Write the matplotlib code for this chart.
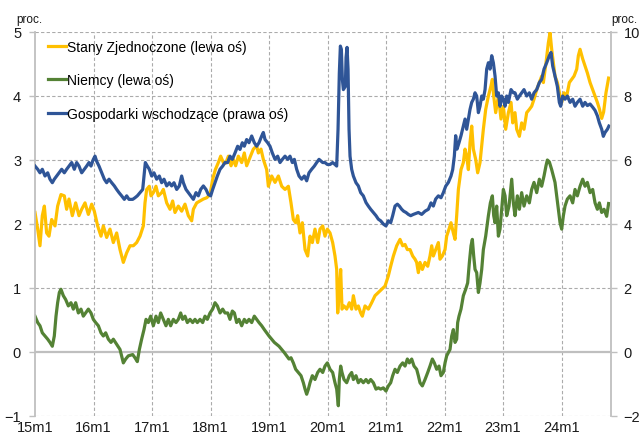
import matplotlib.pyplot as plt
import numpy as np

# rentownosci obligacji 10-letnich, proc.
# (czas w latach ulamkowych, wartosc)
us = [
    (2015.000, 2.18), (2015.046, 1.92), (2015.085, 1.66), (2015.125, 2.13), (2015.160, 2.28),
    (2015.199, 1.86), (2015.239, 1.81), (2015.285, 2.07), (2015.342, 1.97), (2015.387, 2.28),
    (2015.444, 2.46), (2015.501, 2.44), (2015.541, 2.23), (2015.581, 2.39), (2015.638, 2.13),
    (2015.695, 2.33), (2015.752, 2.13), (2015.798, 2.23), (2015.855, 2.33), (2015.912, 2.15),
    (2015.969, 2.31), (2016.014, 2.20), (2016.071, 1.97), (2016.128, 1.81), (2016.168, 1.97),
    (2016.225, 1.79), (2016.282, 1.92), (2016.339, 1.71), (2016.396, 1.86), (2016.453, 1.60),
    (2016.510, 1.40), (2016.567, 1.55), (2016.624, 1.66), (2016.681, 1.66), (2016.738, 1.71),
    (2016.795, 1.81), (2016.852, 1.97), (2016.880, 2.33), (2016.909, 2.54), (2016.954, 2.59),
    (2016.983, 2.44), (2017.023, 2.49), (2017.068, 2.59), (2017.108, 2.44), (2017.165, 2.49),
    (2017.194, 2.54), (2017.251, 2.33), (2017.308, 2.23), (2017.353, 2.36), (2017.393, 2.18),
    (2017.450, 2.28), (2017.507, 2.20), (2017.564, 2.31), (2017.621, 2.13), (2017.678, 2.05),
    (2017.707, 2.23), (2017.764, 2.33), (2017.821, 2.36), (2017.878, 2.39), (2017.935, 2.41),
    (2017.992, 2.46), (2018.037, 2.70), (2018.083, 2.85), (2018.134, 2.96), (2018.174, 3.06),
    (2018.220, 2.96), (2018.260, 2.95), (2018.305, 3.06), (2018.351, 2.91), (2018.390, 3.01),
    (2018.430, 2.91), (2018.476, 3.06), (2018.533, 2.96), (2018.578, 3.11), (2018.618, 2.91),
    (2018.675, 3.04), (2018.732, 3.17), (2018.789, 3.22), (2018.818, 3.11), (2018.863, 3.17),
    (2018.903, 3.01), (2018.960, 2.85), (2018.989, 2.59), (2019.046, 2.75), (2019.103, 2.65),
    (2019.160, 2.75), (2019.217, 2.59), (2019.274, 2.54), (2019.331, 2.59), (2019.376, 2.33),
    (2019.416, 2.07), (2019.456, 2.02), (2019.490, 2.13), (2019.530, 1.86), (2019.570, 2.02),
    (2019.616, 1.60), (2019.661, 1.50), (2019.701, 1.81), (2019.741, 1.71), (2019.786, 1.92),
    (2019.832, 1.71), (2019.872, 1.92), (2019.918, 1.97), (2019.957, 1.81), (2019.997, 1.92),
    (2020.043, 1.86), (2020.088, 1.71), (2020.128, 1.50), (2020.157, 1.29), (2020.174, 0.61),
    (2020.197, 0.88), (2020.225, 1.29), (2020.248, 0.67), (2020.282, 0.72), (2020.328, 0.67),
    (2020.373, 0.77), (2020.413, 0.67), (2020.442, 0.88), (2020.487, 0.67), (2020.527, 0.72),
    (2020.567, 0.61), (2020.596, 0.56), (2020.641, 0.72), (2020.698, 0.67), (2020.755, 0.77),
    (2020.812, 0.88), (2020.869, 0.93), (2020.926, 0.98), (2020.983, 1.03), (2021.040, 1.19),
    (2021.080, 1.34), (2021.126, 1.50), (2021.183, 1.66), (2021.240, 1.76), (2021.285, 1.66),
    (2021.325, 1.68), (2021.365, 1.60), (2021.411, 1.60), (2021.456, 1.50), (2021.496, 1.45),
    (2021.524, 1.40), (2021.553, 1.24), (2021.581, 1.40), (2021.621, 1.29), (2021.667, 1.40),
    (2021.713, 1.34), (2021.752, 1.50), (2021.781, 1.66), (2021.809, 1.50), (2021.849, 1.60),
    (2021.895, 1.71), (2021.923, 1.45), (2021.963, 1.50), (2022.009, 1.60), (2022.037, 1.81),
    (2022.077, 1.92), (2022.111, 2.02), (2022.151, 1.86), (2022.180, 1.76), (2022.208, 2.13),
    (2022.237, 2.54), (2022.282, 2.85), (2022.322, 2.96), (2022.351, 3.17), (2022.379, 3.06),
    (2022.408, 2.85), (2022.436, 3.27), (2022.465, 3.53), (2022.493, 3.17), (2022.533, 3.01),
    (2022.567, 2.80), (2022.607, 2.96), (2022.664, 3.48), (2022.704, 3.79), (2022.750, 4.00),
    (2022.795, 4.16), (2022.818, 4.26), (2022.841, 4.00), (2022.875, 3.74), (2022.921, 4.00),
    (2022.966, 3.64), (2023.006, 3.84), (2023.046, 3.48), (2023.092, 3.74), (2023.137, 3.90),
    (2023.166, 3.58), (2023.205, 3.74), (2023.234, 3.48), (2023.280, 3.37), (2023.319, 3.58),
    (2023.359, 3.48), (2023.405, 3.74), (2023.450, 3.79), (2023.490, 3.84), (2023.530, 3.95),
    (2023.576, 4.10), (2023.621, 4.21), (2023.661, 4.31), (2023.690, 4.21), (2023.735, 4.52),
    (2023.775, 4.83), (2023.804, 4.99), (2023.832, 4.73), (2023.861, 4.52), (2023.889, 4.31),
    (2023.929, 4.21), (2023.975, 4.00), (2024.003, 3.90), (2024.043, 4.05), (2024.089, 4.00),
    (2024.134, 4.21), (2024.174, 4.26), (2024.214, 4.31), (2024.260, 4.42), (2024.288, 4.63),
    (2024.317, 4.73), (2024.362, 4.58), (2024.402, 4.47), (2024.442, 4.36), (2024.488, 4.21),
    (2024.533, 4.10), (2024.573, 4.00), (2024.613, 3.90), (2024.647, 3.80), (2024.687, 3.65),
    (2024.720, 3.75), (2024.760, 4.05), (2024.805, 4.28),
]

de = [
    (2015.000, 0.56), (2015.046, 0.46), (2015.085, 0.41), (2015.125, 0.30), (2015.171, 0.25),
    (2015.217, 0.20), (2015.256, 0.15), (2015.296, 0.09), (2015.330, 0.25), (2015.359, 0.56),
    (2015.387, 0.77), (2015.416, 0.93), (2015.444, 0.98), (2015.484, 0.88), (2015.524, 0.82),
    (2015.570, 0.72), (2015.615, 0.77), (2015.655, 0.67), (2015.695, 0.77), (2015.741, 0.61),
    (2015.786, 0.67), (2015.826, 0.56), (2015.866, 0.61), (2015.912, 0.67), (2015.957, 0.61),
    (2015.997, 0.51), (2016.037, 0.46), (2016.083, 0.41), (2016.128, 0.30), (2016.168, 0.25),
    (2016.208, 0.30), (2016.254, 0.20), (2016.299, 0.15), (2016.339, 0.20), (2016.396, 0.12),
    (2016.453, 0.04), (2016.510, -0.17), (2016.550, -0.11), (2016.595, -0.06), (2016.670, -0.04),
    (2016.709, -0.09), (2016.749, -0.15), (2016.784, 0.04), (2016.823, 0.20), (2016.863, 0.35),
    (2016.898, 0.51), (2016.937, 0.46), (2016.977, 0.56), (2017.023, 0.41), (2017.068, 0.56),
    (2017.108, 0.46), (2017.148, 0.61), (2017.194, 0.51), (2017.239, 0.41), (2017.279, 0.51),
    (2017.319, 0.41), (2017.365, 0.51), (2017.410, 0.46), (2017.450, 0.51), (2017.490, 0.61),
    (2017.524, 0.51), (2017.564, 0.56), (2017.604, 0.46), (2017.650, 0.51), (2017.695, 0.46),
    (2017.735, 0.51), (2017.775, 0.46), (2017.821, 0.51), (2017.866, 0.46), (2017.906, 0.56),
    (2017.946, 0.51), (2017.992, 0.61), (2018.037, 0.67), (2018.077, 0.77), (2018.117, 0.72),
    (2018.163, 0.61), (2018.208, 0.67), (2018.248, 0.61), (2018.294, 0.61), (2018.333, 0.51),
    (2018.373, 0.64), (2018.408, 0.61), (2018.447, 0.46), (2018.487, 0.51), (2018.533, 0.41),
    (2018.578, 0.51), (2018.618, 0.46), (2018.658, 0.51), (2018.704, 0.46), (2018.749, 0.56),
    (2018.789, 0.51), (2018.829, 0.46), (2018.875, 0.41), (2018.920, 0.35), (2018.960, 0.30),
    (2019.000, 0.25), (2019.046, 0.20), (2019.091, 0.15), (2019.131, 0.12), (2019.171, 0.09),
    (2019.217, 0.04), (2019.262, -0.01), (2019.302, -0.06), (2019.342, -0.11), (2019.376, -0.09),
    (2019.416, -0.17), (2019.456, -0.27), (2019.502, -0.32), (2019.547, -0.37), (2019.587, -0.48),
    (2019.616, -0.58), (2019.644, -0.66), (2019.673, -0.58), (2019.701, -0.48), (2019.741, -0.37),
    (2019.786, -0.43), (2019.832, -0.32), (2019.872, -0.27), (2019.918, -0.32), (2019.957, -0.22),
    (2019.997, -0.17), (2020.043, -0.27), (2020.088, -0.32), (2020.128, -0.48), (2020.157, -0.58),
    (2020.185, -0.84), (2020.202, -0.43), (2020.225, -0.22), (2020.248, -0.32), (2020.282, -0.43),
    (2020.328, -0.48), (2020.373, -0.37), (2020.413, -0.32), (2020.442, -0.43), (2020.487, -0.37),
    (2020.527, -0.48), (2020.567, -0.43), (2020.612, -0.48), (2020.658, -0.43), (2020.698, -0.48),
    (2020.738, -0.43), (2020.784, -0.48), (2020.829, -0.58), (2020.869, -0.56), (2020.909, -0.58),
    (2020.954, -0.56), (2020.999, -0.61), (2021.040, -0.53), (2021.080, -0.48), (2021.114, -0.37),
    (2021.154, -0.27), (2021.194, -0.32), (2021.240, -0.22), (2021.285, -0.17), (2021.325, -0.22),
    (2021.365, -0.11), (2021.399, -0.17), (2021.439, -0.11), (2021.479, -0.22), (2021.524, -0.27),
    (2021.553, -0.37), (2021.581, -0.48), (2021.621, -0.53), (2021.667, -0.43), (2021.713, -0.32),
    (2021.752, -0.22), (2021.792, -0.11), (2021.826, -0.17), (2021.866, -0.27), (2021.906, -0.22),
    (2021.940, -0.37), (2021.980, -0.32), (2022.009, -0.17), (2022.037, -0.06), (2022.066, -0.01),
    (2022.094, 0.04), (2022.123, 0.25), (2022.151, 0.35), (2022.180, 0.15), (2022.208, 0.20),
    (2022.225, 0.46), (2022.248, 0.56), (2022.282, 0.67), (2022.322, 0.88), (2022.362, 0.98),
    (2022.396, 1.08), (2022.425, 1.40), (2022.453, 1.66), (2022.476, 1.76), (2022.499, 1.50),
    (2022.522, 1.29), (2022.550, 1.24), (2022.579, 0.93), (2022.607, 1.08), (2022.636, 1.29),
    (2022.664, 1.60), (2022.704, 1.81), (2022.750, 2.13), (2022.784, 2.33), (2022.818, 2.44),
    (2022.841, 2.13), (2022.864, 2.02), (2022.892, 2.28), (2022.921, 1.81), (2022.949, 1.92),
    (2022.977, 2.23), (2023.006, 2.54), (2023.035, 2.44), (2023.063, 2.13), (2023.103, 2.28),
    (2023.149, 2.70), (2023.177, 2.33), (2023.205, 2.13), (2023.245, 2.44), (2023.280, 2.23),
    (2023.319, 2.49), (2023.359, 2.28), (2023.405, 2.44), (2023.450, 2.33), (2023.490, 2.54),
    (2023.530, 2.65), (2023.576, 2.49), (2023.621, 2.70), (2023.661, 2.59), (2023.701, 2.75),
    (2023.735, 2.91), (2023.758, 3.00), (2023.792, 2.97), (2023.832, 2.85), (2023.861, 2.75),
    (2023.889, 2.65), (2023.918, 2.44), (2023.946, 2.23), (2023.975, 2.02), (2024.003, 1.92),
    (2024.032, 2.13), (2024.060, 2.28), (2024.100, 2.39), (2024.146, 2.44), (2024.191, 2.33),
    (2024.231, 2.54), (2024.271, 2.44), (2024.317, 2.59), (2024.362, 2.70), (2024.402, 2.59),
    (2024.442, 2.65), (2024.488, 2.49), (2024.533, 2.54), (2024.573, 2.33), (2024.613, 2.23),
    (2024.647, 2.33), (2024.687, 2.18), (2024.727, 2.23), (2024.772, 2.12), (2024.805, 2.32),
]

# gospodarki wschodzace - prawa os
em = [
    (2015.000, 5.81), (2015.046, 5.71), (2015.085, 5.60), (2015.125, 5.71), (2015.171, 5.50),
    (2015.217, 5.60), (2015.256, 5.40), (2015.296, 5.29), (2015.330, 5.40), (2015.370, 5.50),
    (2015.410, 5.60), (2015.456, 5.71), (2015.501, 5.60), (2015.541, 5.71), (2015.581, 5.81),
    (2015.627, 5.92), (2015.672, 5.71), (2015.712, 5.92), (2015.752, 5.81), (2015.798, 5.60),
    (2015.843, 5.71), (2015.883, 5.81), (2015.923, 5.92), (2015.957, 5.81), (2015.997, 6.02),
    (2016.026, 6.12), (2016.054, 5.96), (2016.094, 5.81), (2016.140, 5.60), (2016.185, 5.40),
    (2016.225, 5.29), (2016.265, 5.40), (2016.311, 5.29), (2016.356, 5.19), (2016.396, 5.08),
    (2016.436, 4.98), (2016.481, 4.88), (2016.527, 4.77), (2016.567, 4.88), (2016.607, 4.77),
    (2016.670, 4.77), (2016.709, 4.82), (2016.749, 4.88), (2016.795, 4.98), (2016.841, 5.08),
    (2016.863, 5.50), (2016.886, 5.92), (2016.920, 5.81), (2016.954, 5.71), (2016.994, 5.50),
    (2017.034, 5.60), (2017.080, 5.40), (2017.125, 5.50), (2017.165, 5.29), (2017.205, 5.40),
    (2017.251, 5.19), (2017.296, 5.29), (2017.336, 5.19), (2017.376, 5.29), (2017.422, 5.08),
    (2017.467, 5.19), (2017.507, 5.50), (2017.536, 5.29), (2017.581, 5.08), (2017.621, 4.98),
    (2017.661, 4.88), (2017.707, 4.77), (2017.752, 4.98), (2017.792, 4.88), (2017.832, 5.08),
    (2017.878, 5.19), (2017.923, 5.08), (2017.963, 4.92), (2018.003, 4.88), (2018.037, 5.08),
    (2018.077, 5.29), (2018.117, 5.50), (2018.163, 5.71), (2018.208, 5.81), (2018.248, 5.92),
    (2018.294, 5.92), (2018.333, 6.12), (2018.373, 6.02), (2018.419, 6.22), (2018.464, 6.43),
    (2018.504, 6.33), (2018.544, 6.54), (2018.578, 6.43), (2018.618, 6.64), (2018.658, 6.54),
    (2018.704, 6.75), (2018.749, 6.54), (2018.789, 6.43), (2018.829, 6.54), (2018.875, 6.75),
    (2018.903, 6.86), (2018.932, 6.64), (2018.977, 6.54), (2019.017, 6.43), (2019.057, 6.22),
    (2019.103, 6.02), (2019.148, 6.12), (2019.188, 5.92), (2019.228, 6.02), (2019.274, 6.12),
    (2019.319, 6.02), (2019.359, 6.12), (2019.399, 5.92), (2019.433, 6.02), (2019.473, 5.71),
    (2019.513, 5.50), (2019.558, 5.40), (2019.604, 5.50), (2019.644, 5.35), (2019.684, 5.60),
    (2019.729, 5.71), (2019.775, 5.81), (2019.815, 5.92), (2019.855, 6.02), (2019.918, 5.92),
    (2019.957, 5.92), (2019.997, 5.86), (2020.043, 5.86), (2020.088, 5.92), (2020.128, 5.86),
    (2020.157, 5.81), (2020.180, 6.96), (2020.202, 8.72), (2020.220, 9.56), (2020.237, 9.46),
    (2020.254, 8.52), (2020.271, 8.20), (2020.305, 8.30), (2020.317, 9.20), (2020.334, 9.52),
    (2020.351, 8.84), (2020.368, 6.96), (2020.385, 6.12), (2020.413, 5.71), (2020.442, 5.50),
    (2020.487, 5.29), (2020.527, 5.19), (2020.567, 4.98), (2020.612, 4.88), (2020.658, 4.67),
    (2020.698, 4.56), (2020.738, 4.46), (2020.784, 4.36), (2020.829, 4.26), (2020.869, 4.15),
    (2020.909, 4.10), (2020.954, 4.00), (2020.999, 3.94), (2021.040, 4.10), (2021.080, 4.04),
    (2021.114, 4.26), (2021.154, 4.56), (2021.194, 4.62), (2021.228, 4.56), (2021.268, 4.46),
    (2021.302, 4.40), (2021.342, 4.36), (2021.382, 4.30), (2021.422, 4.26), (2021.467, 4.30),
    (2021.553, 4.36), (2021.610, 4.30), (2021.667, 4.40), (2021.724, 4.46), (2021.769, 4.66),
    (2021.809, 4.56), (2021.849, 4.78), (2021.895, 4.88), (2021.940, 4.82), (2021.980, 4.98),
    (2022.020, 5.18), (2022.066, 5.30), (2022.111, 5.50), (2022.140, 5.70), (2022.168, 6.12),
    (2022.191, 6.76), (2022.214, 6.34), (2022.248, 6.54), (2022.282, 6.76), (2022.322, 7.06),
    (2022.351, 7.28), (2022.379, 6.96), (2022.408, 7.28), (2022.436, 7.58), (2022.465, 7.80),
    (2022.493, 7.90), (2022.522, 8.10), (2022.550, 8.00), (2022.579, 7.48), (2022.607, 7.68),
    (2022.636, 8.00), (2022.664, 7.90), (2022.693, 8.20), (2022.721, 8.84), (2022.750, 9.04),
    (2022.778, 8.84), (2022.807, 9.26), (2022.835, 9.04), (2022.864, 8.62), (2022.892, 8.00),
    (2022.921, 8.10), (2022.949, 7.68), (2022.977, 8.00), (2023.006, 7.90), (2023.035, 7.68),
    (2023.063, 8.00), (2023.092, 7.80), (2023.137, 8.20), (2023.177, 8.10), (2023.205, 8.10),
    (2023.245, 7.90), (2023.280, 8.00), (2023.319, 8.10), (2023.359, 8.20), (2023.405, 8.00),
    (2023.450, 8.10), (2023.490, 7.90), (2023.530, 8.10), (2023.576, 8.20), (2023.621, 8.42),
    (2023.661, 8.52), (2023.701, 8.84), (2023.747, 9.04), (2023.792, 9.26), (2023.821, 9.36),
    (2023.849, 8.94), (2023.889, 8.62), (2023.929, 8.30), (2023.963, 7.80), (2023.986, 7.68),
    (2024.020, 8.00), (2024.060, 7.90), (2024.100, 8.00), (2024.146, 7.80), (2024.191, 7.90),
    (2024.231, 7.68), (2024.271, 7.80), (2024.317, 7.90), (2024.362, 7.68), (2024.402, 7.80),
    (2024.442, 7.70), (2024.488, 7.75), (2024.533, 7.65), (2024.573, 7.55), (2024.613, 7.38),
    (2024.647, 7.16), (2024.687, 6.96), (2024.715, 6.74), (2024.744, 6.86), (2024.784, 6.96),
    (2024.810, 7.06),
]

labels = ['Stany Zjednoczone (lewa oś)', 'Niemcy (lewa oś)',
          'Gospodarki wschodzące (prawa oś)']
colors = ['#FFC000', '#548235', '#2F5597']
years = list(range(2015, 2025))
xlabels = ['%02dm1' % (y % 100) for y in years]

font = 'Liberation Sans'
grey = '#BFBFBF'
txt = '#1a1a1a'

###############################################################################

plt.rcParams['font.family'] = font

fig = plt.figure(figsize=(6.41, 4.39), dpi=100)
ax = fig.add_axes([35 / 641, 22 / 439, 576 / 641, 384 / 439])
ax2 = ax.twinx()

for y in years[1:]:
    ax.axvline(y, color='#ABABAB', lw=0.8, ls=(0, (3, 2)), zorder=0)
for v in range(-1, 6):
    if v != 0:
        ax.axhline(v, color='#ABABAB', lw=0.8, ls=(0, (3, 2)), zorder=0)
ax.axhline(0, color=grey, lw=1.6, zorder=1)

handles = []
for data, c, lab, a in zip([us, de, em], colors, labels, [ax, ax, ax2]):
    t, v = zip(*data)
    h, = a.plot(t, v, color=c, lw=2.3, label=lab, solid_joinstyle='round')
    handles.append(h)

ax.set_xlim(2015, 2024.846)
ax.set_ylim(-1, 5)
ax2.set_ylim(-2, 10)
ax.set_yticks(range(-1, 6))
ax2.set_yticks(range(-2, 11, 2))
ax.set_xticks(years)
ax.set_xticklabels(xlabels)

for a in (ax, ax2):
    for s in ('top', 'bottom'):
        a.spines[s].set_visible(False)
    for s in ('left', 'right'):
        a.spines[s].set_color(grey)
        a.spines[s].set_linewidth(1.3)
ax.spines['right'].set_visible(False)
ax2.spines['left'].set_visible(False)

ax.tick_params(axis='y', length=4, width=1, color=grey, pad=6,
               labelsize=10.5, labelcolor=txt)
ax2.tick_params(axis='y', length=4, width=1, color=grey, pad=5,
                labelsize=10.5, labelcolor=txt)
ax.tick_params(axis='x', length=0, pad=3, labelsize=10.5, labelcolor=txt)

fig.text(29 / 641, 1 - 20 / 439, 'proc.', ha='center', va='center',
         fontsize=8.5, color=txt)
fig.text(624 / 641, 1 - 20 / 439, 'proc.', ha='center', va='center',
         fontsize=8.5, color=txt)

ax2.legend(handles=handles, loc='upper left', bbox_to_anchor=(0.022, 0.98),
           frameon=False, fontsize=10, handlelength=1.3, handletextpad=0.1,
           labelspacing=1.4, borderpad=0, borderaxespad=0)

fig.savefig('out.png', dpi=100, facecolor='white')
